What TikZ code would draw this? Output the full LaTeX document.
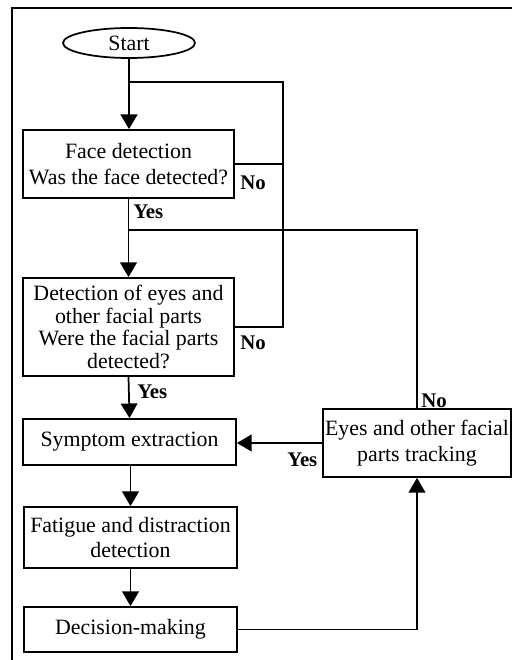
\documentclass[tikz,border=0pt]{standalone}
\usepackage{fontspec}
\setmainfont{Liberation Serif}
\usetikzlibrary{shapes.geometric,arrows.meta}
\begin{document}
\begin{tikzpicture}[x=0.75pt,y=-0.75pt,
  every node/.style={font=\fontsize{16.4}{18.5}\selectfont},
  stepbox/.style={draw,line width=1.3pt,rectangle,inner sep=0pt,align=center},
  startnode/.style={draw,line width=1.3pt,ellipse,inner sep=0pt,minimum width=99pt,minimum height=22.5pt},
  lab/.style={font=\fontsize{15.6}{16}\selectfont\bfseries,inner sep=0pt},
  conn/.style={line width=1.3pt},
  arr/.style={line width=1.3pt,-{Triangle[length=11pt,width=12.5pt]}}]
\useasboundingbox (0,0) rectangle (512,660);
% frame
\draw[line width=1.7pt] (12,660) -- (12,8) -- (512,8);
% nodes
\node[startnode] (start) at (129,43) {Start};
\node[stepbox,minimum width=158.25pt,minimum height=51pt,font=\fontsize{16.4}{19.5}\selectfont] (face) at (128.5,164) {Face detection\\Was the face detected?};
\node[stepbox,minimum width=158.25pt,minimum height=73.5pt,font=\fontsize{16.4}{17}\selectfont] (detect) at (128.5,327) {Detection of eyes and\\other facial parts\\Were the facial parts\\detected?};
\node[stepbox,minimum width=159.75pt,minimum height=34.5pt] (symptom) at (129.5,442) {Symptom extraction};
\node[stepbox,minimum width=159.75pt,minimum height=45.75pt] (fatigue) at (130.5,537.5) {Fatigue and distraction\\detection};
\node[stepbox,minimum width=159.75pt,minimum height=33.75pt] (decision) at (130.5,629.5) {Decision-making};
\node[stepbox,minimum width=141pt,minimum height=51pt,font=\fontsize{16.4}{19.5}\selectfont] (track) at (417,443) {Eyes and other facial\\parts tracking};
% coordinates
\coordinate (loopTop) at (128,82);
\coordinate (loopRight) at (283,82);
\coordinate (joinTwo) at (128,230);
% connectors
\draw[arr,line width=2pt] (start.south) -- (start.south |- face.north);
\draw[conn] (face.east) -| (loopRight) -- (loopTop);
\draw[conn] (detect.east) -| (loopRight);
\draw[arr] (face.south) -- (detect.north);
\draw[conn] (track.north) |- (joinTwo);
\draw[arr] (detect.south) -- (symptom.north);
\draw[arr] (track.west) -- (symptom.east |- track.west);
\draw[arr] (symptom.south -| fatigue.north) -- (fatigue.north);
\draw[arr] (fatigue.south) -- (decision.north);
\draw[arr] (decision.east) -| (track.south);
% labels
\node[lab,anchor=west] (noA) at (240,183) {No};
\node[lab,anchor=west] (yesA) at (133,212) {Yes};
\node[lab,anchor=west] (noB) at (240,343) {No};
\node[lab,anchor=west] (yesB) at (137,392) {Yes};
\node[lab,anchor=west] (noC) at (421,401) {No};
\node[lab,anchor=west] (yesC) at (287,460) {Yes};
\end{tikzpicture}
\end{document}
